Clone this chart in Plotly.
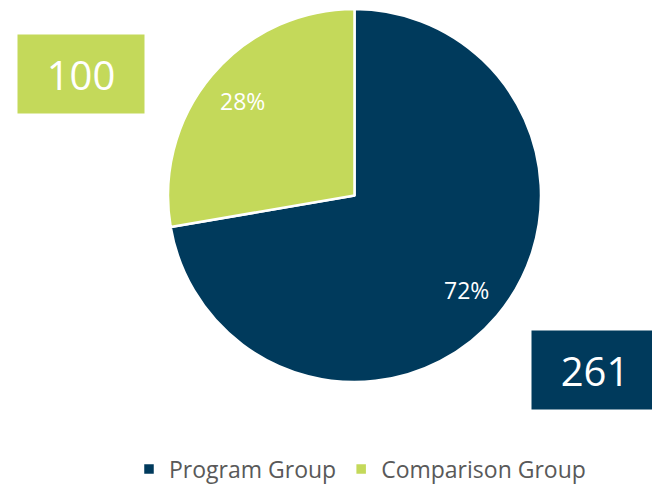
import math
import plotly.graph_objects as go

labels = ["Program Group", "Comparison Group"]
values = [261, 100]
colors = ["#003A5C", "#C4D95A"]

# page body has an 8px margin: figure is drawn 8px right/down of the window corner
OFF = 8
W, H = 660 - OFF, 485 - OFF


def px(x):
    return (x - OFF) / W


def py(y):
    return (H - (y - OFF)) / H


X0, X1 = 168, 541     # pie horizontal extent (window pixels)
Y0, Y1 = 9, 382       # pie vertical extent (window pixels from top)

fig = go.Figure()
fig.add_trace(go.Pie(
    labels=labels,
    values=values,
    sort=False,
    direction="clockwise",
    rotation=0,
    marker=dict(colors=colors, line=dict(color="white", width=2.5)),
    textinfo="none",
    domain=dict(x=[px(X0), px(X1)], y=[py(Y1), py(Y0)]),
    hoverinfo="label+value+percent",
))

# percentage labels placed at slice mid-angles
total = sum(values)
cx, cy = (X0 + X1) / 2, (Y0 + Y1) / 2
R = (X1 - X0) / 2
start = 0.0
for v in values:
    frac = v / total
    mid = (start + frac / 2) * 2 * math.pi
    start += frac
    x = cx + 0.786 * R * math.sin(mid)
    y = cy - 0.786 * R * math.cos(mid)
    fig.add_annotation(x=px(x), y=py(y), xref="paper", yref="paper",
                       xanchor="center", yanchor="middle",
                       text=f"{round(frac * 100)}%", showarrow=False,
                       font=dict(family="Open Sans", size=23, color="white"))

# value boxes
fig.add_annotation(x=px(17), y=py(34), xref="paper", yref="paper",
                   xanchor="left", yanchor="top", text=str(values[1]),
                   showarrow=False, width=122, height=74, borderpad=2, bgcolor=colors[1],
                   font=dict(family="Open Sans", size=40, color="white"),
                   align="center", valign="middle")
fig.add_annotation(x=px(531), y=py(330), xref="paper", yref="paper",
                   xanchor="left", yanchor="top", text=str(values[0]),
                   showarrow=False, width=122, height=74, borderpad=2, bgcolor=colors[0],
                   font=dict(family="Open Sans", size=40, color="white"),
                   align="center", valign="middle")

fig.update_layout(
    width=W, height=H,
    margin=dict(l=0, r=0, t=0, b=0, autoexpand=False),
    paper_bgcolor="white",
    plot_bgcolor="white",
    showlegend=True,
    legend=dict(orientation="h", x=px(360), xanchor="center", y=py(469), yanchor="middle",
                font=dict(family="Open Sans", size=23, color="#595959"),
                itemwidth=30, traceorder="normal"),
)

fig.write_html("out.html")
